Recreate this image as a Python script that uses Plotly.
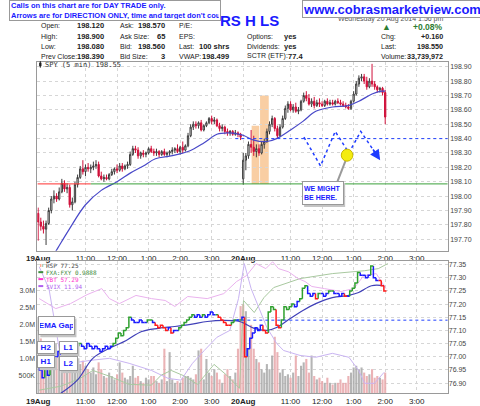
import plotly.graph_objects as go

W, H = 480, 406

# x is the 5-minute bar number, 78 bars per session (19Aug = 0..77, 20Aug = 78..)
tick_pos = [0, 18, 30, 42, 54, 66, 78, 96, 108, 120, 132, 144]
tick_text = ['<b>19Aug</b>', '11:00', '12:00', '1:00', '2:00', '3:00',
             '<b>20Aug</b>', '11:00', '12:00', '1:00', '2:00', '3:00']

spy_open = [
    197.88, 197.82, 197.79, 197.77, 197.81, 197.90, 197.98, 198.00, 197.98, 198.03,
    198.09, 198.05, 198.06, 197.94, 197.96, 198.08, 198.13, 198.19, 198.17, 198.20,
    198.19, 198.20, 198.21, 198.22, 198.14, 198.12, 198.13, 198.12, 198.15, 198.17,
    198.19, 198.18, 198.21, 198.19, 198.21, 198.22, 198.29, 198.33, 198.32, 198.28,
    198.30, 198.29, 198.30, 198.33, 198.31, 198.30, 198.31, 198.29, 198.31, 198.29,
    198.30, 198.31, 198.32, 198.33, 198.31, 198.34, 198.32, 198.35, 198.42, 198.48,
    198.50, 198.49, 198.51, 198.46, 198.49, 198.51, 198.54, 198.52, 198.53, 198.49,
    198.47, 198.48, 198.45, 198.44, 198.45, 198.43, 198.44, 198.43,
    198.12, 198.25, 198.28, 198.36, 198.34, 198.31, 198.33, 198.30, 198.36, 198.38,
    198.45, 198.50, 198.54, 198.47, 198.42, 198.48, 198.54, 198.61, 198.64, 198.60,
    198.62, 198.59, 198.60, 198.66, 198.70, 198.68, 198.64, 198.66, 198.63, 198.65,
    198.64, 198.63, 198.66, 198.64, 198.65, 198.64, 198.66, 198.65, 198.64, 198.63,
    198.62, 198.61, 198.66, 198.71, 198.78, 198.82, 198.83, 198.80, 198.76, 198.80,
    198.78, 198.76, 198.74, 198.75, 198.72]
spy_high = [
    197.92, 197.85, 197.83, 197.83, 197.92, 198.00, 198.04, 198.02, 198.06, 198.12,
    198.11, 198.09, 198.08, 197.99, 198.10, 198.15, 198.21, 198.25, 198.22, 198.23,
    198.22, 198.24, 198.25, 198.24, 198.17, 198.15, 198.15, 198.16, 198.19, 198.20,
    198.22, 198.23, 198.23, 198.22, 198.24, 198.31, 198.35, 198.35, 198.34, 198.31,
    198.32, 198.31, 198.34, 198.35, 198.33, 198.33, 198.32, 198.32, 198.33, 198.31,
    198.32, 198.34, 198.34, 198.36, 198.35, 198.38, 198.36, 198.44, 198.50, 198.52,
    198.52, 198.52, 198.53, 198.50, 198.52, 198.55, 198.56, 198.55, 198.54, 198.51,
    198.50, 198.49, 198.47, 198.46, 198.46, 198.46, 198.45, 198.44,
    198.30, 198.30, 198.38, 198.46, 198.42, 198.36, 198.36, 198.38, 198.40, 198.47,
    198.52, 198.56, 198.55, 198.49, 198.50, 198.56, 198.63, 198.66, 198.66, 198.64,
    198.65, 198.62, 198.67, 198.72, 198.73, 198.71, 198.68, 198.69, 198.67, 198.68,
    198.66, 198.67, 198.68, 198.67, 198.67, 198.67, 198.68, 198.67, 198.66, 198.65,
    198.64, 198.67, 198.73, 198.80, 198.84, 198.85, 198.85, 198.83, 198.82, 198.92,
    198.80, 198.77, 198.76, 198.76, 198.74]
spy_low = [
    197.69, 197.76, 197.74, 197.66, 197.80, 197.88, 197.95, 197.96, 197.97, 198.02,
    198.03, 198.02, 197.92, 197.90, 197.95, 198.06, 198.12, 198.15, 198.14, 198.17,
    198.16, 198.18, 198.19, 198.13, 198.11, 198.10, 198.11, 198.11, 198.14, 198.15,
    198.16, 198.17, 198.17, 198.18, 198.19, 198.21, 198.28, 198.30, 198.26, 198.26,
    198.27, 198.27, 198.29, 198.30, 198.28, 198.28, 198.27, 198.28, 198.28, 198.27,
    198.28, 198.29, 198.30, 198.30, 198.29, 198.30, 198.31, 198.34, 198.41, 198.46,
    198.47, 198.47, 198.45, 198.45, 198.48, 198.50, 198.50, 198.50, 198.48, 198.45,
    198.45, 198.43, 198.42, 198.42, 198.42, 198.42, 198.41, 198.39,
    198.08, 198.18, 198.26, 198.30, 198.28, 198.27, 198.28, 198.29, 198.33, 198.37,
    198.43, 198.48, 198.45, 198.40, 198.41, 198.47, 198.53, 198.58, 198.59, 198.58,
    198.58, 198.57, 198.59, 198.65, 198.66, 198.63, 198.62, 198.61, 198.62, 198.62,
    198.62, 198.62, 198.63, 198.63, 198.63, 198.63, 198.64, 198.63, 198.62, 198.61,
    198.60, 198.60, 198.65, 198.70, 198.76, 198.80, 198.78, 198.74, 198.75, 198.76,
    198.74, 198.72, 198.72, 198.70, 198.50]
spy_close = [
    197.82, 197.79, 197.77, 197.81, 197.90, 197.98, 198.00, 197.98, 198.03, 198.09,
    198.05, 198.06, 197.94, 197.96, 198.08, 198.13, 198.19, 198.17, 198.20, 198.19,
    198.20, 198.21, 198.22, 198.14, 198.12, 198.13, 198.12, 198.15, 198.17, 198.19,
    198.18, 198.21, 198.19, 198.21, 198.22, 198.29, 198.33, 198.32, 198.28, 198.30,
    198.29, 198.30, 198.33, 198.31, 198.30, 198.31, 198.29, 198.31, 198.29, 198.30,
    198.31, 198.32, 198.33, 198.31, 198.34, 198.32, 198.35, 198.42, 198.48, 198.50,
    198.49, 198.51, 198.46, 198.49, 198.51, 198.54, 198.52, 198.53, 198.49, 198.47,
    198.48, 198.45, 198.44, 198.45, 198.43, 198.44, 198.43, 198.41,
    198.25, 198.28, 198.36, 198.34, 198.31, 198.33, 198.30, 198.36, 198.38, 198.45,
    198.50, 198.54, 198.47, 198.42, 198.48, 198.54, 198.61, 198.64, 198.60, 198.62,
    198.59, 198.60, 198.66, 198.70, 198.68, 198.64, 198.66, 198.63, 198.65, 198.64,
    198.63, 198.66, 198.64, 198.65, 198.64, 198.66, 198.65, 198.64, 198.63, 198.62,
    198.61, 198.66, 198.71, 198.78, 198.82, 198.83, 198.80, 198.76, 198.80, 198.78,
    198.76, 198.74, 198.75, 198.72, 198.55]

spy_ma_x = [5.5, 7.5, 11.5, 18, 24, 30, 35, 40, 44.6, 50.5, 57, 63, 68, 72, 76.6,
            78.4, 82, 87, 90.7, 96, 100.7, 105.6, 112, 118, 122, 127, 130.5, 132]
spy_ma = [197.58, 197.64, 197.76, 197.94, 198.04, 198.10, 198.16, 198.21, 198.26, 198.28,
          198.31, 198.37, 198.43, 198.44, 198.43, 198.42, 198.39, 198.38, 198.40, 198.46,
          198.52, 198.59, 198.62, 198.63, 198.66, 198.71, 198.73, 198.73]
spy_ticks = [197.7, 197.8, 197.9, 198.0, 198.1, 198.2, 198.3, 198.4, 198.5, 198.6, 198.7, 198.8, 198.9]

# volume in millions of shares
volume = [
    2.2, 1.6, 1.2, 1.5, 1.1, 1.3, 0.9, 1.05, 1.25, 1.1,
    1.0, 0.8, 1.2, 1.0, 0.9, 1.0, 0.85, 0.95, 0.8, 0.7,
    0.6, 0.75, 0.55, 0.9, 0.7, 0.5, 0.45, 0.6, 0.5, 0.4,
    0.55, 0.9, 0.6, 0.45, 0.4, 0.5, 0.8, 0.45, 0.5, 0.35,
    0.3, 0.45, 0.4, 0.5, 0.5, 0.35, 0.3, 0.4, 1.3, 0.35,
    1.2, 0.4, 0.3, 0.35, 0.3, 0.45, 0.5, 0.5, 0.45, 0.4,
    0.55, 1.25, 1.3, 0.4, 1.0, 0.6, 0.5, 0.7, 0.6, 0.4,
    0.3, 0.55, 0.7, 0.5, 0.4, 0.6, 1.3, 2.55,
    2.6, 2.4, 1.3, 2.0, 1.3, 1.0, 0.9, 0.7, 0.6, 0.85,
    0.7, 1.1, 1.65, 1.2, 0.6, 0.7, 0.5, 0.55, 0.45, 0.6,
    1.1, 0.5, 0.8, 0.9, 1.0, 0.6, 1.1, 0.5, 0.4, 0.45,
    0.35, 0.3, 0.45, 0.3, 0.25, 0.3, 0.3, 0.4, 0.3, 0.3,
    0.5, 0.6, 0.75, 0.8, 0.7, 0.75, 0.6, 0.5, 0.55, 0.7,
    0.45, 0.5, 0.45, 0.4, 0.6]
vol_ticks = [0.5, 1.0, 1.5, 2.0, 2.5, 3.0]
vol_labels = ['500K', '1.0M', '1.5M', '2.0M', '2.5M', '3.0M']

rsp_close = [
    76.97, 76.95, 76.92, 76.96, 76.93, 76.99, 77.01, 77.00, 77.02, 77.01,
    77.03, 77.02, 77.04, 77.03, 77.02, 77.04, 77.05, 77.04, 77.03, 77.05,
    77.04, 77.03, 77.04, 77.03, 77.02, 77.03, 77.04, 77.03, 77.04, 77.05,
    77.07, 77.09, 77.08, 77.10, 77.11, 77.15, 77.14, 77.13, 77.13, 77.14,
    77.13, 77.13, 77.14, 77.14, 77.13, 77.12, 77.11, 77.12, 77.11, 77.10,
    77.11, 77.09, 77.10, 77.10, 77.11, 77.12, 77.13, 77.14, 77.15, 77.16,
    77.15, 77.16, 77.15, 77.16, 77.15, 77.16, 77.17, 77.16, 77.16, 77.15,
    77.14, 77.13, 77.12, 77.12, 77.13, 77.14, 77.14, 77.14,
    77.15, 77.00, 77.03, 77.07, 77.09, 77.11, 77.10, 77.12, 77.10, 77.09,
    77.17, 77.19, 77.18, 77.12, 77.11, 77.14, 77.19, 77.18, 77.19, 77.20,
    77.19, 77.21, 77.22, 77.26, 77.27, 77.24, 77.23, 77.24, 77.22, 77.24,
    77.24, 77.23, 77.24, 77.25, 77.25, 77.24, 77.24, 77.23, 77.24, 77.23,
    77.23, 77.25, 77.26, 77.28, 77.32, 77.31, 77.31, 77.30, 77.31, 77.345,
    77.30, 77.29, 77.29, 77.27, 77.25]
# bar colour codes as drawn: g = green, b = blue, r = red
rsp_color = ('gbbgbggbbb' 'bbbbbggbbb' 'bbbbbbbbbg' 'ggggggbbbb' 'bbggbrrrrr'
             'brbbgggggg' 'bbbgbbbbgr' 'rrrrggbg'
             'brbbbbbbrr' 'gggrrggggg' 'bbgggbbbrg' 'bbbggbbbbr' 'bggggbbbbg' 'bbrrr')

rsp_ma_x = [8.6, 14.9, 20.8, 27.1, 33.5, 39.4, 45.7, 52, 58, 64.3, 70.6, 76.6,
            78.4, 82.2, 87, 90.7, 95.9, 100.7, 105.6, 111.9, 118.2, 121.9, 126.8, 131.6]
rsp_ma = [76.861, 76.911, 76.994, 77.032, 77.062, 77.096, 77.108, 77.115, 77.123, 77.134,
          77.138, 77.134, 77.127, 77.108, 77.100, 77.111, 77.145, 77.176, 77.202, 77.225,
          77.233, 77.244, 77.270, 77.270]
rsp_ticks = [76.90, 76.95, 77.00, 77.05, 77.10, 77.15, 77.20, 77.25, 77.30, 77.35]

# overlay lines, read in the RSP panel scale
tbt_x = [0.4, 6.7, 12.3, 18.6, 24.2, 27.1, 30.9, 37.2, 43.1, 48.3, 52, 56.9, 64.3, 70.6, 75.5,
         79.2, 82.9, 86.6, 89.2, 91.4, 95.2, 98.9, 101.5, 104.1, 108.9, 115.2, 120.1, 123.8,
         128.6, 132.3]
tbt = [77.221, 77.183, 77.202, 77.236, 77.259, 77.221, 77.202, 77.233, 77.221, 77.214,
       77.191, 77.229, 77.221, 77.240, 77.286, 77.308, 77.354, 77.335, 77.361, 77.335,
       77.323, 77.297, 77.286, 77.267, 77.259, 77.248, 77.259, 77.308, 77.316, 77.259]
vix_x = [0.4, 4.1, 6.7, 8.6, 12.3, 19.7, 27.1, 34.6, 43.1, 49.4, 54.3, 58.7, 63.2, 68, 72.9,
         76.2, 78.4, 81, 87, 90.7, 93.3, 99.6, 105.6, 111.9, 118.2, 121.9, 124.2, 127.9, 131.6]
vix = [77.342, 77.259, 77.108, 76.994, 76.975, 76.986, 76.994, 76.975, 76.948, 76.918,
       76.911, 76.975, 77.024, 77.074, 77.100, 77.221, 77.354, 77.259, 77.111, 77.051,
       77.024, 77.005, 76.998, 77.013, 76.998, 76.948, 76.899, 76.899, 76.941]
fxa_x = [0.4, 8.6, 16, 20.8, 27.1, 34.6, 43.1, 46.8, 50.6, 55.8, 60.6, 66.9, 71.7, 76.6,
         78.1, 82.2, 85.9, 89.6, 99.6, 111.9, 124.2, 129.4, 133]
fxa = [76.873, 76.888, 76.918, 76.948, 76.926, 76.895, 76.892, 76.930, 76.948, 76.926,
       76.895, 76.971, 76.930, 76.880, 77.214, 77.168, 77.225, 77.263, 77.297, 77.316,
       77.327, 77.335, 77.354]

# drawn-in arrow path and markers
zig_x = [101.1, 107.4, 113, 118.2, 122.7, 130.1]
zig_y = [198.41, 198.21, 198.45, 198.30, 198.45, 198.25]
day_low = 198.085
prev_close = 198.40
rsp_line = 77.139

bars = list(range(len(spy_close)))
X0, X1 = -0.3, 155.8


def px(x):
    return x / W


def py(y):
    return 1 - y / H


fig = go.Figure()

# ---- price panel
fig.add_trace(go.Candlestick(
    x=bars, open=spy_open, high=spy_high, low=spy_low, close=spy_close,
    increasing=dict(line=dict(color='#3c3c3c', width=1), fillcolor='#ffffff'),
    decreasing=dict(line=dict(color='#d0103a', width=1), fillcolor='#d0103a'),
    whiskerwidth=0, showlegend=False, hoverinfo='skip'))
fig.add_trace(go.Scatter(x=spy_ma_x, y=spy_ma, mode='lines', line_shape='spline',
                         line=dict(color='#4848c8', width=1.2), hoverinfo='skip'))
fig.add_trace(go.Scatter(x=zig_x, y=zig_y, mode='lines',
                         line=dict(color='#1f3cff', width=1.5, dash='dot'), hoverinfo='skip'))

# ---- lower panel: volume on y2 (left), RSP and overlays on y3 (right)
vol_colors = ['#a9a9a9' if i == 0 or spy_close[i] >= spy_close[i - 1] else '#e8a6aa'
              for i in bars]
fig.add_trace(go.Bar(x=bars, y=volume, marker=dict(color=vol_colors, line_width=0),
                     width=0.8, opacity=0.85, xaxis='x2', yaxis='y2', hoverinfo='skip'))
for xs, ys, col in [(fxa_x, fxa, '#a9c9a0'), (tbt_x, tbt, '#eab2ee'), (vix_x, vix, '#c9b4f2')]:
    fig.add_trace(go.Scatter(x=xs, y=ys, mode='lines', line=dict(color=col, width=1),
                             xaxis='x2', yaxis='y3', hoverinfo='skip'))


def step_path(code):
    xs, ys = [], []
    for i, c in enumerate(rsp_close):
        if rsp_color[i] != code:
            continue
        prev = rsp_close[i - 1] if i else c
        xs += [i - 0.5, i - 0.5, i + 0.5, None]
        ys += [prev, c, c, None]
    return xs, ys


fig.add_trace(go.Scatter(x=rsp_ma_x, y=rsp_ma, mode='lines', line_shape='spline',
                         line=dict(color='#4040b8', width=1.2), xaxis='x2', yaxis='y3',
                         hoverinfo='skip'))
for code, col in [('b', '#1a1aff'), ('g', '#2ea02e'), ('r', '#ff1a1a')]:
    xs, ys = step_path(code)
    fig.add_trace(go.Scatter(x=xs, y=ys, mode='lines', line=dict(color=col, width=1.5),
                             xaxis='x2', yaxis='y3', hoverinfo='skip'))

# ---- shapes in data space
shapes = [
    dict(type='rect', x0=81.2, x1=84.1, y0=day_low, y1=198.49, fillcolor='#f7c28c',
         line_width=0, opacity=0.8, layer='below'),
    dict(type='rect', x0=84.4, x1=87.7, y0=day_low, y1=198.70, fillcolor='#f7c28c',
         line_width=0, opacity=0.8, layer='below'),
    dict(type='line', x0=X0, x1=20, y0=day_low, y1=day_low, line=dict(color='#ff3030', width=1)),
    dict(type='line', x0=20, x1=X1, y0=day_low, y1=day_low, line=dict(color='#3aa03a', width=1)),
    dict(type='line', x0=75, x1=X1, y0=prev_close, y1=prev_close,
         line=dict(color='#2040ff', width=1, dash='dot')),
    dict(type='line', x0=75, x1=X1, y0=rsp_line, y1=rsp_line, xref='x2', yref='y3',
         line=dict(color='#2040ff', width=1, dash='dot')),
    dict(type='line', x0=113.6, x1=116.9, y0=198.09, y1=198.245,
         line=dict(color='#9a9a9a', width=2)),
    dict(type='circle', x0=115.3, x1=119.7, y0=198.243, y1=198.327,
         fillcolor='#f4ec10', line=dict(color='#c8b800', width=1)),
]
# shadows under the drawn-in note boxes (pixel positions)
for x0, y0, x1, y1 in [(28, 318, 65, 337), (27, 343, 45, 356), (27, 357, 45, 370),
                       (49, 343, 68, 356), (49, 358, 68, 373), (298, 182, 340, 206)]:
    shapes.append(dict(type='rect', xref='paper', yref='paper', x0=px(x0 + 2), x1=px(x1 + 2),
                       y0=py(y1 + 2), y1=py(y0 + 2), fillcolor='#c4c4c4', line_width=0))
# small candle icon before the price label
shapes.append(dict(type='line', xref='paper', yref='paper', x0=px(30), x1=px(30),
                   y0=py(68), y1=py(61.5), line=dict(color='#222', width=1)))
shapes.append(dict(type='rect', xref='paper', yref='paper', x0=px(28.8), x1=px(31.2),
                   y0=py(66.5), y1=py(63), fillcolor='#222', line_width=0))

fig.add_annotation(x=130.1, y=198.25, ax=127.0, ay=198.335, xref='x', yref='y', axref='x',
                   ayref='y', showarrow=True, arrowhead=2, arrowsize=1.3, arrowwidth=1.6,
                   arrowcolor='#1f3cff', text='')


def label(x, y, text, size=7, color='#222', anchor='left', bold=False,
          family='Liberation Sans'):
    fig.add_annotation(x=px(x), y=py(y), xref='paper', yref='paper', showarrow=False,
                       text=f'<b>{text}</b>' if bold else text, xanchor=anchor,
                       yanchor='middle', borderpad=0,
                       font=dict(family=family, size=size, color=color))


def box(x0, y0, x1, y1, text, size=8, color='#1a1aff', align='center'):
    fig.add_annotation(x=px((x0 + x1) / 2), y=py((y0 + y1) / 2), xref='paper', yref='paper',
                       xanchor='center', yanchor='middle',
                       showarrow=False, text=text, width=x1 - x0 - 4, height=y1 - y0 - 4,
                       bgcolor='white', bordercolor='#999', borderwidth=1, borderpad=1,
                       align=align, valign='middle',
                       font=dict(family='Liberation Sans', size=size, color=color))


# ---- header
rows = [26, 36.7, 46.7, 56.7]
for r, (lab, val) in enumerate([('Open:', '198.120'), ('High:', '198.900'),
                                ('Low:', '198.080'), ('Prev Close:', '198.390')]):
    label(30, rows[r], lab)
    label(96, rows[r], val, size=7.5, anchor='right', bold=True)
for r, (lab, val) in enumerate([('Ask:', '198.570'), ('Ask Size:', '65'),
                                ('Bid:', '198.560'), ('Bid Size:', '3')]):
    label(111, rows[r], lab)
    label(159, rows[r], val, size=7.5, anchor='right', bold=True)
for r, (lab, val) in enumerate([('P/E:', ''), ('EPS:', ''), ('Last:', '100 shrs'),
                                ('VWAP:', '198.499')]):
    label(171, rows[r], lab)
    if val:
        label(224, rows[r], val, size=7.5, anchor='right', bold=True)
for r, (lab, val) in enumerate([('Options:', 'yes'), ('Dividends:', 'yes'),
                                ('SCTR (ETF):', '77.4')]):
    label(240, rows[r + 1], lab)
    label(294 if val == 'yes' else 282, rows[r + 1], val, size=7.5,
          anchor='right' if val == 'yes' else 'left', bold=True)
for r, (lab, val) in enumerate([('Chg:', '+0.160'), ('Last:', '198.550'),
                                ('Volume:', '33,739,972')]):
    label(378, rows[r + 1], lab)
    label(443, rows[r + 1], val, size=7.2, anchor='right', bold=True)
label(444, 19, 'Wednesday 20 Aug 2014 1:56 pm', size=7, color='#555', anchor='right')
label(379, 27, '▲', size=9, color='#2e7d32')
label(443, 27, '+0.08%', size=8.5, color='#2e7d32', anchor='right', bold=True)
label(213, 21, 'RS H LS', size=15, color='#1a1aff', bold=True)
label(34, 65, 'SPY (5 min) 198.55', size=7, color='#333', family='DejaVu Sans Mono')

box(0, 0, 212, 21, '<b>Calls on this chart are for DAY TRADE only.<br>'
    'Arrows are for DIRECTION ONLY, time and target don\'t count.</b>',
    size=7.5, align='left')
box(300, 0, 480, 18, '<b>www.cobrasmarketview.com</b>', size=13)

# ---- lower panel legend
label(28.5, 266.5, '<span style="color:#ff1a1a">ı</span><span style="color:#2ea02e">ı</span>',
      size=6)
label(35, 266.5, 'RSP 77.25', size=6, color='#444', family='DejaVu Sans Mono')
for y, txt, col in [(273.5, 'FXA:FXY 0.9888', '#3c8c3c'), (280.5, 'TBT 57.29', '#ff33cc'),
                    (287.5, '$VIX 11.94', '#b060f0')]:
    shapes.append(dict(type='line', xref='paper', yref='paper', x0=px(28), x1=px(33),
                       y0=py(y), y1=py(y), line=dict(color=col, width=2)))
    label(35, y, txt, size=6, color=col, family='DejaVu Sans Mono')

box(28, 318, 65, 337, '<b>EMA Gap</b>', size=8)
box(27, 343, 45, 356, '<b>H2</b>', size=8)
box(27, 357, 45, 370, '<b>H1</b>', size=8)
box(49, 343, 68, 356, '<b>L1</b>', size=8)
box(49, 358, 68, 373, '<b>L2</b>', size=8)
box(298, 182, 340, 206, '<b>WE MIGHT<br>BE HERE.</b>', size=7, align='left')

grid = dict(showgrid=True, gridcolor='#d6d6d6', griddash='dot', gridwidth=1)
frame = dict(showline=True, mirror=True, linecolor='#9a9a9a', linewidth=1, zeroline=False,
             ticks='', ticklen=0)
xfont = dict(family='Liberation Sans', size=8, color='#222')
yfont = dict(family='Liberation Sans', size=7, color='#444')

fig.update_layout(
    width=W, height=H, margin=dict(l=0, r=0, t=0, b=0),
    paper_bgcolor='white', plot_bgcolor='white', showlegend=False,
    shapes=shapes,
    xaxis=dict(domain=[px(27), px(447)], range=[X0, X1], anchor='y', tickvals=tick_pos,
               ticktext=tick_text, tickfont=xfont, rangeslider=dict(visible=False),
               **grid, **frame),
    yaxis=dict(domain=[py(252), py(62)], range=[197.62, 198.935], side='right',
               tickvals=spy_ticks, tickformat='.2f', tickfont=yfont, **grid, **frame),
    xaxis2=dict(domain=[px(27), px(447)], range=[X0, X1], anchor='y2', tickvals=tick_pos,
                ticktext=tick_text, tickfont=xfont, **grid, **frame),
    yaxis2=dict(domain=[py(395), py(262)], range=[0, 3.88], side='left', anchor='x2',
                tickvals=vol_ticks, ticktext=vol_labels, tickfont=yfont, showgrid=False,
                **frame),
    yaxis3=dict(overlaying='y2', anchor='x2', side='right', range=[76.862, 77.365],
                tickvals=rsp_ticks, tickformat='.2f', tickfont=yfont, **grid,
                showline=False, zeroline=False, ticks='', ticklen=0),
)

# the page's default body margin would push the 480x406 figure off its frame
fig.write_html("out.html", config={'displayModeBar': False},
               post_script="document.body.style.margin='0';")
